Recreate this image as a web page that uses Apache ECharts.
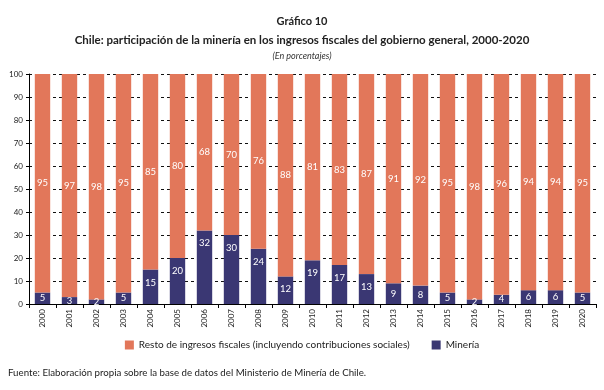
<!DOCTYPE html>
<html><head><meta charset="utf-8">
<script src="https://cdn.jsdelivr.net/npm/echarts@6/dist/echarts.min.js"></script>
<style>html,body{margin:0;padding:0;background:#fff}#c{width:604px;height:390px}</style>
</head><body><div id="c"></div>
<script>
const years = ['2000','2001','2002','2003','2004','2005','2006','2007','2008','2009','2010','2011','2012','2013','2014','2015','2016','2017','2018','2019','2020'];
const mineria = [5,3,2,5,15,20,32,30,24,12,19,17,13,9,8,5,2,4,6,6,5];
const resto = [95,97,98,95,85,80,68,70,76,88,81,83,87,91,92,95,98,96,94,94,95];
const yTicks = [0,10,20,30,40,50,60,70,80,90,100];
const FONT = 'Lato';
const mineriaData = mineria.map(v => v < 10
  ? {value: v, label: {position: 'inside'}}
  : {value: v});
const chart = echarts.init(document.getElementById('c'));
chart.setOption({
  animation: false,
  textStyle: {fontFamily: FONT},
  title: [
    {text: 'Gráfico 10', left: 'center', top: 11, textStyle: {fontFamily: FONT, fontSize: 11, fontWeight: 'bold', color: '#222'}},
    {text: 'Chile: participación de la minería en los ingresos fiscales del gobierno general, 2000-2020', left: 'center', top: 29, textStyle: {fontFamily: FONT, fontSize: 11.5, fontWeight: 'bold', color: '#222'}},
    {text: '(En porcentajes)', left: 'center', top: 47, textStyle: {fontFamily: FONT, fontSize: 9, fontStyle: 'italic', fontWeight: 'normal', color: '#333'}},
    {text: 'Fuente: Elaboración propia sobre la base de datos del Ministerio de Minería de Chile.', left: 3, top: 363, textStyle: {fontFamily: FONT, fontSize: 9.7, fontWeight: 'normal', color: '#222'}}
  ],
  legend: {
    top: 335, left: 'center', itemWidth: 9, itemHeight: 9, itemGap: 22,
    icon: 'rect',
    textStyle: {fontFamily: FONT, fontSize: 10, color: '#222'},
    data: ['Resto de ingresos fiscales (incluyendo contribuciones sociales)', 'Minería']
  },
  grid: {left: 29, right: 8, top: 74, bottom: 86, containLabel: false},
  xAxis: {
    type: 'category', data: years,
    axisLine: {lineStyle: {color: '#000', width: 1}},
    axisTick: {show: true, alignWithLabel: false, length: 4, lineStyle: {color: '#000'}},
    axisLabel: {rotate: 90, fontSize: 8, color: '#222', margin: 5, fontFamily: FONT}
  },
  yAxis: {
    type: 'value', min: 0, max: 100, interval: 10,
    axisLine: {show: true, lineStyle: {color: '#000'}},
    axisTick: {show: true, length: 3, lineStyle: {color: '#000'}},
    axisLabel: {fontSize: 8, color: '#222', margin: 6, fontFamily: FONT,
      formatter: v => yTicks.includes(v) ? String(v) : ''},
    splitLine: {show: true, lineStyle: {color: '#111', type: [3, 3], width: 1}}
  },
  series: [
    {
      name: 'Minería', type: 'bar', stack: 't', data: mineriaData, barWidth: '57%',
      itemStyle: {color: '#3A3773'},
      label: {show: true, position: 'insideTop', distance: 8, color: '#fff', fontSize: 9.5, fontFamily: FONT}
    },
    {
      name: 'Resto de ingresos fiscales (incluyendo contribuciones sociales)', type: 'bar', stack: 't', data: resto, barWidth: '57%',
      itemStyle: {color: '#E2775A'},
      label: {show: true, position: 'inside', color: '#fff', fontSize: 9.5, fontFamily: FONT}
    }
  ]
});
</script></body></html>
